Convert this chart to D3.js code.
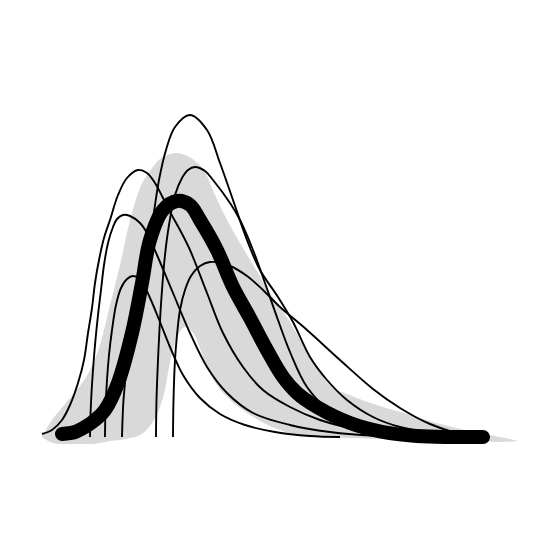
<!DOCTYPE html>
<html>
<head>
<meta charset="utf-8">
<script src="https://cdn.jsdelivr.net/npm/d3@7"></script>
<style>
  html, body { margin: 0; padding: 0; background: #ffffff; }
  svg { display: block; }
</style>
</head>
<body>
<div id="chart"></div>
<script>
// ---- Data ----
// Uncertainty band: shared x grid, upper and lower bounds
const bandX     = [0.2, 1, 2, 3, 4, 5, 6, 7, 8, 9, 10, 11, 12, 12.5, 13, 13.7, 14.5, 15.5, 16.5, 17.5, 18.5, 20, 21.5, 23, 25, 27, 29, 31, 34, 37, 40, 43, 46, 47.8];
const bandUpper = [0, 1.4, 2.7, 3.9, 5.1, 6.7, 9.2, 13.2, 17.2, 21.7, 24.9, 26.6, 27.8, 28.1, 28.3, 28.4, 28.2, 27.6, 26.5, 24.2, 22.1, 19.4, 16.9, 14.4, 11.5, 8.0, 5.2, 4.2, 3.1, 2.2, 1.3, 0.6, 0, -0.4];
const bandLower = [0, -0.5, -0.7, -0.7, -0.7, -0.7, -0.6, -0.4, -0.3, -0.1, 0.2, 1.1, 3.0, 4.7, 7.5, 9.9, 11.0, 10.1, 7.5, 5.5, 4.2, 2.9, 1.9, 1.1, 0.4, 0.1, 0, -0.1, -0.2, -0.3, -0.4, -0.4, -0.5, -0.4];

// Thick central curve
const meanX = [2.2, 3.5, 4.5, 5.5, 6.5, 7.8, 9.2, 10.2, 11.0, 12.3, 13.7, 15.0, 16.0, 17.7, 19.3, 21.0, 22.7, 24.3, 25.7, 27.7, 31.0, 34.3, 37.7, 41.0, 44.3];
const meanY = [0.3, 0.5, 1.0, 1.7, 2.7, 5.4, 10.4, 15.4, 19.7, 22.7, 23.6, 23.2, 21.7, 18.7, 15.0, 11.9, 8.7, 6.0, 4.4, 3.0, 1.4, 0.5, 0.1, 0, 0];

// Thin sample curves
const s1X = [8.2, 8.35, 8.7, 9.2, 9.8, 10.4, 10.9, 11.4, 11.9, 12.6, 13.5, 15.0, 16.7, 18.0, 19.3, 20.7, 22.0, 23.8, 25.3, 27.0, 28.7, 30.7, 33.3, 36.0, 40.0, 43.0];
const s1Y = [0, 3.7, 7.2, 10.2, 13.2, 16.2, 19.2, 22.5, 25.7, 28.7, 31.0, 32.2, 30.7, 27.4, 23.7, 19.7, 16.7, 14.0, 11.5, 8.0, 5.7, 3.7, 2.0, 1.0, 0.3, 0];

const s2X = [0.2, 1.2, 2.2, 3.0, 3.8, 4.4, 4.8, 5.2, 5.5, 5.9, 6.4, 7.0, 7.8, 8.7, 9.8, 10.7, 11.5, 12.2, 13.0, 14.0, 15.0, 16.7, 18.3, 20.3, 22.3, 25.0, 28.0, 32.0, 36.0, 40.0];
const s2Y = [0.3, 0.7, 1.7, 3.2, 5.4, 7.7, 10.4, 12.9, 15.4, 17.7, 19.9, 21.7, 24.2, 25.9, 26.7, 26.4, 25.4, 24.1, 22.5, 20.7, 18.7, 14.4, 10.4, 7.0, 4.7, 3.0, 1.7, 0.7, 0.2, 0];

const s3X = [11.6, 11.65, 11.8, 12.0, 12.2, 12.5, 12.9, 13.5, 14.2, 14.8, 15.5, 16.5, 17.3, 19.0, 20.0, 21.3, 22.5, 23.8, 25.0, 26.7, 29.0, 31.7, 36.0, 41.0];
const s3Y = [0, 3.7, 7.7, 11.7, 14.7, 18.2, 21.2, 24.2, 25.9, 26.7, 27.0, 26.6, 25.7, 23.4, 21.7, 18.7, 15.4, 11.7, 8.5, 5.0, 2.6, 1.2, 0.4, 0];

const s4X = [5.0, 5.05, 5.15, 5.3, 5.5, 5.8, 6.1, 6.4, 6.8, 7.3, 7.7, 8.3, 9.0, 10.0, 10.7, 11.7, 13.3, 15.0, 16.7, 18.7, 21.3, 25.0, 29.0, 34.0, 38.0];
const s4Y = [0, 2.2, 4.4, 6.7, 9.2, 12.2, 14.7, 17.2, 19.4, 21.0, 21.8, 22.2, 22.1, 21.4, 20.4, 18.2, 14.4, 10.4, 7.0, 4.4, 2.4, 1.2, 0.5, 0.1, 0];

const s5X = [6.5, 6.55, 6.7, 6.9, 7.2, 7.6, 8.1, 8.7, 9.3, 10.0, 11.0, 12.0, 13.0, 14.3, 16.0, 18.0, 20.5, 23.5, 27.0, 30.0];
const s5Y = [0, 2.7, 5.7, 8.2, 10.7, 13.2, 14.9, 15.8, 16.1, 15.8, 13.9, 11.5, 9.0, 6.2, 3.9, 2.3, 1.2, 0.5, 0.1, 0];

const s6X = [13.3, 13.35, 13.5, 13.7, 14.0, 14.5, 15.1, 16.0, 17.0, 19.0, 20.7, 22.3, 24.0, 26.7, 30.0, 33.3, 36.0, 39.0, 43.0, 45.0];
const s6Y = [0, 3.7, 7.7, 10.2, 12.7, 14.7, 16.1, 17.1, 17.5, 17.1, 16.1, 14.7, 13.0, 10.7, 7.7, 4.8, 2.9, 1.3, 0.1, 0];

const samples = [[s1X, s1Y], [s2X, s2Y], [s3X, s3Y], [s4X, s4Y], [s5X, s5Y], [s6X, s6Y]];

// ---- Drawing ----
const W = 560, H = 560;
const svg = d3.select("#chart").append("svg")
  .attr("width", W).attr("height", H);

const x = d3.scaleLinear().domain([0, 48]).range([40, 520]);
const y = d3.scaleLinear().domain([0, 33]).range([437, 107]);

const zip = (xs, ys) => xs.map((v, i) => [v, ys[i]]);
const smooth = d3.curveCatmullRom.alpha(0.5);

// band
const bandData = bandX.map((v, i) => ({ x: v, lo: bandLower[i], hi: bandUpper[i] }));
svg.append("path")
  .datum(bandData)
  .attr("fill", "#d9d9d9")
  .attr("d", d3.area()
    .x(d => x(d.x))
    .y0(d => y(d.lo))
    .y1(d => y(d.hi))
    .curve(d3.curveMonotoneX));

const line = d3.line()
  .x(d => x(d[0]))
  .y(d => y(d[1]))
  .curve(smooth);

// thin sample curves
svg.append("g").selectAll("path")
  .data(samples.map(s => zip(s[0], s[1])))
  .join("path")
  .attr("fill", "none")
  .attr("stroke", "#000")
  .attr("stroke-width", 1.9)
  .attr("d", line);

// thick central curve
svg.append("path")
  .datum(zip(meanX, meanY))
  .attr("fill", "none")
  .attr("stroke", "#000")
  .attr("stroke-width", 14)
  .attr("stroke-linecap", "round")
  .attr("stroke-linejoin", "round")
  .attr("d", line);
</script>
</body>
</html>
